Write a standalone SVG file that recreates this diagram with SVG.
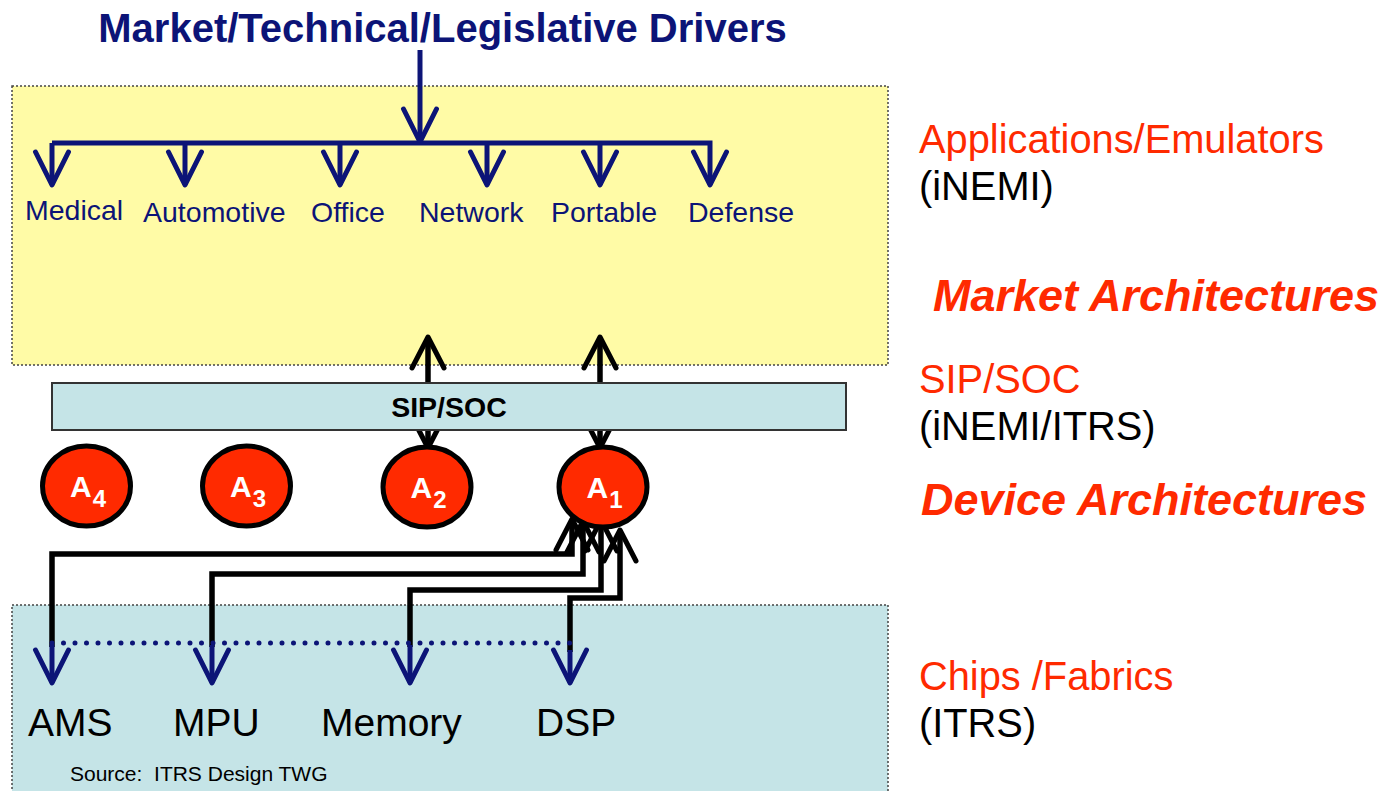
<svg xmlns="http://www.w3.org/2000/svg" width="1387" height="791" viewBox="0 0 1387 791">
<style>
.zone{stroke:#444;stroke-width:1.5;stroke-dasharray:2 2}
.navy{fill:none;stroke:#0c1477;stroke-width:5}
.blk{fill:none;stroke:#000;stroke-width:5.5}
.lbl{font-family:"Liberation Sans",Arial,sans-serif;font-size:28.5px;fill:#0c1477}
.chip{font-family:"Liberation Sans",Arial,sans-serif;font-size:39px;fill:#000}
.side{font-family:"Liberation Sans",Arial,sans-serif;font-size:39.8px}
.red{fill:#ff2a00}
.arch{font-family:"Liberation Sans",Arial,sans-serif;font-size:45px;font-weight:bold;font-style:italic;fill:#ff2a00}
.dev{fill:#ff2a00;stroke:#000;stroke-width:5}
.devt{font-family:"Liberation Sans",Arial,sans-serif;font-size:30px;font-weight:bold;fill:#fff}
</style>
<defs>
<marker id="ahNavy" viewBox="-40 -20 45 40" refX="0" refY="0" markerWidth="45" markerHeight="40" markerUnits="userSpaceOnUse" orient="auto" overflow="visible">
<path d="M-33,-16.5 L0,0 L-33,16.5" fill="none" stroke="#0c1477" stroke-width="5" stroke-linecap="round" stroke-linejoin="round"/>
</marker>
<marker id="ahBlk" viewBox="-40 -20 45 40" refX="0" refY="0" markerWidth="45" markerHeight="40" markerUnits="userSpaceOnUse" orient="auto-start-reverse" overflow="visible">
<path d="M-31,-16 L0,0 L-31,16" fill="none" stroke="#000" stroke-width="5" stroke-linecap="round" stroke-linejoin="round"/>
</marker>
</defs>
<rect width="1387" height="791" fill="#fff"/>

<g id="applications-zone">
<rect class="zone" x="12" y="86" width="876" height="279" fill="#fffba6"/>
</g>
<g id="chips-zone">
<rect class="zone" x="12" y="605" width="876" height="200" fill="#c5e4e7"/>
</g>

<g id="title">
<text x="442.5" y="42" text-anchor="middle" font-family="Liberation Sans, Arial, sans-serif" font-size="40" font-weight="bold" fill="#0c1477">Market/Technical/Legislative Drivers</text>
</g>

<g id="connectors">
<path class="navy" d="M420,50 V142" marker-end="url(#ahNavy)"/>
<path class="navy" d="M52,143 H710 V185" marker-end="url(#ahNavy)"/>
<path class="navy" d="M52,143 V185" marker-end="url(#ahNavy)"/>
<path class="navy" d="M185,143 V185" marker-end="url(#ahNavy)"/>
<path class="navy" d="M340,143 V185" marker-end="url(#ahNavy)"/>
<path class="navy" d="M487,143 V185" marker-end="url(#ahNavy)"/>
<path class="navy" d="M600,143 V185" marker-end="url(#ahNavy)"/>
<path class="blk" d="M428,448 V337" marker-start="url(#ahBlk)" marker-end="url(#ahBlk)"/>
<path class="blk" d="M600,448 V337" marker-start="url(#ahBlk)" marker-end="url(#ahBlk)"/>
<path class="blk" d="M52,647 V554 H572 V519" marker-end="url(#ahBlk)"/>
<path class="blk" d="M212,647 V574 H583 V521" marker-end="url(#ahBlk)"/>
<path class="blk" d="M410,647 V590 H601 V520" marker-end="url(#ahBlk)"/>
<path class="blk" d="M570,652 V598 H620 V530" marker-end="url(#ahBlk)"/>
<path d="M52,643 H570" fill="none" stroke="#0c1477" stroke-width="5" stroke-linecap="round" stroke-dasharray="0 11.5"/>
<path class="navy" d="M52,645 V683" marker-end="url(#ahNavy)"/>
<path class="navy" d="M212,645 V683" marker-end="url(#ahNavy)"/>
<path class="navy" d="M410,645 V683" marker-end="url(#ahNavy)"/>
<path class="navy" d="M570,650 V683" marker-end="url(#ahNavy)"/>
</g>

<g id="app-labels">
<text class="lbl" x="25" y="220">Medical</text>
<text class="lbl" x="143" y="222">Automotive</text>
<text class="lbl" x="311" y="222">Office</text>
<text class="lbl" x="419" y="222">Network</text>
<text class="lbl" x="551" y="222">Portable</text>
<text class="lbl" x="688" y="222">Defense</text>
</g>

<g id="sip-soc">
<rect x="52" y="383" width="794" height="47" fill="#c5e4e7" stroke="#333" stroke-width="2"/>
<text x="449" y="417" text-anchor="middle" font-family="Liberation Sans, Arial, sans-serif" font-size="28.5" font-weight="bold" fill="#000">SIP/SOC</text>
</g>

<g id="A4">
<ellipse class="dev" cx="86.5" cy="486" rx="44" ry="40"/>
<text class="devt" x="70" y="497">A<tspan font-size="24" dx="1" dy="10">4</tspan></text>
</g>
<g id="A3">
<ellipse class="dev" cx="246.5" cy="486" rx="44" ry="40"/>
<text class="devt" x="230" y="497">A<tspan font-size="24" dx="1" dy="10">3</tspan></text>
</g>
<g id="A2">
<ellipse class="dev" cx="427" cy="487" rx="44" ry="40"/>
<text class="devt" x="410.5" y="498">A<tspan font-size="24" dx="1" dy="10">2</tspan></text>
</g>
<g id="A1">
<ellipse class="dev" cx="603" cy="487" rx="44" ry="40"/>
<text class="devt" x="586.5" y="498">A<tspan font-size="24" dx="1" dy="10">1</tspan></text>
</g>

<g id="chip-labels">
<text class="chip" x="28" y="736">AMS</text>
<text class="chip" x="173" y="736">MPU</text>
<text class="chip" x="321" y="736">Memory</text>
<text class="chip" x="536" y="736">DSP</text>
<text x="70" y="781" font-family="Liberation Sans, Arial, sans-serif" font-size="21" fill="#000" xml:space="preserve">Source:  ITRS Design TWG</text>
</g>

<g id="side-labels">
<text class="side red" x="919" y="153">Applications/Emulators</text>
<text class="side" x="919" y="200" fill="#000">(iNEMI)</text>
<text class="arch" x="933" y="311">Market Architectures</text>
<text class="side red" x="919" y="393">SIP/SOC</text>
<text class="side" x="919" y="440" fill="#000">(iNEMI/ITRS)</text>
<text class="arch" x="921" y="515">Device Architectures</text>
<text class="side red" x="919" y="690">Chips /Fabrics</text>
<text class="side" x="919" y="737" fill="#000">(ITRS)</text>
</g>
</svg>
